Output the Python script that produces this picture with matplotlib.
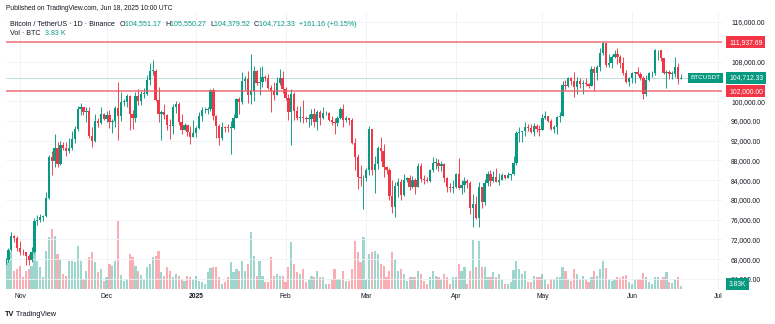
import matplotlib
matplotlib.use('Agg')
import matplotlib.pyplot as plt
import matplotlib.transforms as mtransforms
import matplotlib.dates as mdates
import numpy as np
import pandas as pd

plt.rcParams['font.family'] = ['Liberation Sans', 'DejaVu Sans']

# daily candles, Oct 27 2024 .. Jun 18 2025
dates = pd.date_range('2024-10-27', '2025-06-18', freq='D')
first_open = 67000

close = [
    # Oct
    67940, 69900, 72720, 72340, 70220,
    # Nov
    69500, 69360, 68740, 67800, 69360, 75640, 75900, 76540, 76680, 80370,
    88700, 87950, 90600, 87300, 91050, 90600, 89850, 90460, 92300, 94300,
    98350, 98900, 97700, 97900, 93000, 91950, 95950, 95650, 97460, 96400,
    # Dec
    97200, 95860, 96000, 98600, 96950, 99800, 99900, 101100, 97400, 96600,
    101100, 100000, 101400, 101400, 104300, 106050, 106100, 100200, 97450, 97750,
    97200, 95150, 94880, 98700, 99400, 95800, 94200, 95100, 93700, 92800, 93600,
    # Jan
    94600, 96900, 98100, 98240, 98300, 102200, 96900, 95000, 92500, 94700,
    94550, 94500, 94500, 96500, 100500, 99900, 104100, 104450, 101300, 102000,
    106150, 103650, 103950, 104800, 104700, 102600, 102100, 101300, 103700, 104750, 102400,
    # Feb
    100650, 97700, 101400, 97900, 96600, 96600, 96500, 96450, 96450, 97400,
    95800, 97850, 96600, 97500, 97600, 96100, 95750, 95550, 96600, 98350,
    96100, 96550, 96250, 91550, 88700, 84700, 84350, 84400,
    # Mar
    86050, 94250, 86100, 87200, 90600, 89950, 86750, 86150, 80750, 78600,
    82900, 83700, 81050, 83950, 84350, 82600, 84050, 82700, 86850, 84200,
    84100, 83850, 86100, 87500, 87500, 86900, 87250, 84400, 82600, 82350, 82550,
    # Apr
    85150, 82500, 83100, 83850, 83500, 78400, 79150, 76300, 82600, 79600,
    83400, 85300, 83750, 84550, 83650, 84050, 84950, 84450, 85050, 85200,
    87500, 93450, 93700, 93950, 94700, 94650, 93750, 95050, 94300, 94200,
    # May
    96500, 96900, 95900, 94300, 94750, 96800, 97050, 103250, 102950, 104650,
    104100, 102800, 104150, 103500, 103750, 103550, 103150, 106450, 105600, 106800,
    109650, 111700, 107300, 107800, 109000, 109450, 108950, 107800, 105650, 103850, 104600,
    # Jun
    105700, 105800, 105400, 104700, 101500, 104300, 105600, 105750, 110250, 110250,
    108650, 105650, 105950, 105400, 105550, 106800, 104551.17, 104712.33,
]

high = [
    68300, 70200, 73600, 72960, 72700,
    71600, 70000, 69500, 69000, 70500, 76400, 76950, 77200, 76950, 81500,
    89000, 89950, 93300, 91800, 91850, 91800, 91700, 92600, 94000, 94900,
    99000, 99600, 98800, 98700, 98900, 94800, 97400, 96600, 98700, 97500,
    97900, 98200, 96300, 99000, 103900, 101900, 100500, 101400, 101200, 98200,
    101900, 102500, 102000, 102600, 105200, 107800, 108350, 106500, 102800, 98100,
    99500, 97300, 96400, 99400, 99950, 99900, 97300, 95500, 95200, 94900, 96150,
    94900, 97800, 98900, 98700, 98800, 102500, 102700, 97250, 95300, 95800,
    95000, 95400, 95900, 97350, 100700, 100850, 105900, 104990, 106000, 109600,
    107000, 106300, 106850, 107100, 105300, 105450, 103200, 103800, 104800, 106450, 106000,
    102800, 101450, 102500, 101750, 99000, 99000, 100150, 96900, 97300, 98350,
    98500, 98100, 98100, 98800, 97950, 97700, 97000, 96500, 96900, 98750,
    99500, 96900, 96650, 96500, 92500, 89300, 87100, 85100,
    86550, 95050, 94400, 88900, 91000, 92800, 91300, 86850, 86500, 83950,
    83600, 84350, 84300, 85300, 84650, 85050, 84750, 84500, 87450, 87450,
    85000, 84550, 86200, 88750, 88550, 88300, 87800, 87500, 84550, 83500, 83950,
    85500, 88500, 83950, 84700, 84250, 83800, 81250, 80850, 83550, 82700,
    84300, 85900, 86100, 85800, 86500, 85500, 85450, 85100, 85600, 85300,
    88850, 93850, 94700, 94000, 95750, 95300, 95350, 95600, 95450, 95250,
    97450, 97900, 96950, 96300, 95200, 96900, 97700, 104100, 104350, 104950,
    104800, 105800, 104950, 104600, 104250, 104600, 103700, 107100, 107100, 107300,
    110800, 111980, 111800, 109500, 109300, 110400, 110700, 109300, 108900, 106300, 104900,
    105850, 105950, 106800, 105950, 105000, 105300, 105950, 106000, 110550, 110400,
    110400, 108800, 106200, 106200, 106150, 108950, 107750, 105550.27,
]

low = [
    66800, 67500, 69700, 71400, 69700,
    68800, 68800, 66800, 66800, 67500, 69300, 74900, 75600, 75700, 76500,
    80200, 85100, 86600, 86700, 87100, 90100, 88800, 89400, 90000, 91500,
    94000, 97200, 97100, 95800, 92600, 90800, 91800, 94700, 95400, 96200,
    95700, 94500, 93600, 94700, 92100, 95900, 99000, 98700, 94100, 94300,
    95700, 99300, 99200, 100600, 101200, 103300, 105300, 100000, 95700, 92200,
    96400, 94200, 92400, 93400, 97600, 95100, 93300, 94100, 93000, 91300, 92800,
    92800, 94400, 96000, 97500, 97300, 97900, 96100, 92500, 91200, 92200,
    93800, 93700, 89250, 94300, 96500, 97300, 99500, 102300, 99600, 99500,
    100100, 103300, 101250, 102750, 104100, 102450, 97750, 100300, 101300, 103300, 101550,
    100300, 96200, 91200, 96150, 96150, 95700, 95650, 95700, 94700, 95250,
    94850, 94100, 95200, 96300, 97200, 96000, 95200, 93400, 95000, 96400,
    94800, 95700, 95250, 91350, 86050, 82250, 82800, 78200,
    83800, 85000, 85100, 81400, 86300, 87800, 84650, 85250, 80000, 77450,
    76600, 80650, 79950, 80800, 83600, 82000, 82450, 81150, 82600, 83650,
    83200, 83600, 83700, 85550, 86300, 85900, 85800, 83600, 81650, 81550, 81300,
    82450, 82300, 81200, 81650, 82350, 77150, 74500, 76200, 74600, 78450,
    78950, 82850, 82800, 83700, 83600, 83100, 83950, 84300, 84350, 83950,
    85050, 87050, 91700, 91650, 92850, 93900, 93600, 92850, 93700, 92900,
    94150, 96300, 95700, 94150, 93500, 93400, 95800, 96900, 102300, 102800,
    103200, 100750, 101450, 102650, 101400, 103100, 102600, 103050, 102000, 104200,
    106100, 109300, 106800, 106900, 106600, 108700, 107550, 106700, 105350, 103700, 103100,
    103650, 103750, 105000, 104200, 100400, 101100, 104100, 104950, 105300, 108350,
    108050, 105400, 102650, 104500, 104500, 104950, 103400, 104379.52,
]

# volume in thousands of BTC
volume = [
    34, 42, 55, 27, 30,
    34, 18, 27, 30, 34, 57, 42, 33, 18, 57, 78, 90, 80, 52, 45,
    22, 20, 42, 42, 40, 64, 42, 15, 27, 48, 55, 40, 25, 30, 12,
    18, 38, 35, 42, 102, 21, 12, 15, 52, 48, 35, 27, 21, 15, 33,
    38, 48, 50, 57, 25, 20, 33, 27, 18, 22, 20, 15, 12, 20, 18, 15,
    20, 12, 10, 8, 25, 32, 33, 33, 18, 8, 10, 18, 40, 25, 30,
    27, 42, 27, 38, 86, 50, 20, 42, 20, 10, 10, 48, 20, 22, 20, 20,
    10, 33, 70, 38, 25, 22, 30, 10, 15, 20, 18, 27, 18, 18, 8,
    8, 15, 30, 15, 15, 27, 12, 12, 30, 72, 55, 40, 78,
    15, 52, 55, 57, 52, 38, 35, 18, 27, 55, 45, 27, 30, 22, 12,
    18, 18, 18, 27, 22, 12, 8, 18, 27, 20, 18, 15, 22, 18, 8, 18,
    18, 38, 27, 33, 8, 27, 74, 33, 72, 33, 33, 18, 18, 25, 18,
    22, 15, 8, 8, 10, 28, 42, 30, 22, 27, 10, 10, 20, 18, 18,
    22, 15, 8, 15, 15, 18, 18, 33, 27, 15, 12, 30, 22, 15, 20,
    15, 10, 18, 27, 20, 30, 42, 32, 15, 12, 15, 18, 16, 20, 21, 10,
    8, 15, 15, 15, 24, 18, 10, 8, 18, 18, 14, 18, 25, 10, 9, 15, 18, 3.83,
]

month_ticks = ['2024-11-01', '2024-12-01', '2025-01-01', '2025-02-01', '2025-03-01',
               '2025-04-01', '2025-05-01', '2025-06-01', '2025-07-01']
month_labels = ['Nov', 'Dec', '2025', 'Feb', 'Mar', 'Apr', 'May', 'Jun', 'Jul']
price_ticks = [116000, 108000, 100000, 96000, 92000, 88000, 84000,
               80000, 76000, 72000, 68000, 64000]
resistance = 111937.69
support = 102000.00
last_price = 104712.33
last_vol = '3.83K'

UP = '#089981'
DOWN = '#f23645'
TXT = '#131722'

close = np.array(close, dtype=float)
high = np.array(high, dtype=float)
low = np.array(low, dtype=float)
volume = np.array(volume, dtype=float)
opens = np.concatenate([[first_open], close[:-1]])
up = close >= opens

W, H = 775, 324
fig = plt.figure(figsize=(W / 100, H / 100), dpi=100)
rect = [6 / W, 1 - 289 / H, 716 / W, 277 / H]

# volume pane underneath
axv = fig.add_axes(rect)
ax = fig.add_axes(rect, sharex=axv)
ax.patch.set_visible(False)

x0 = pd.Timestamp('2024-11-01')
px_day = 2.886
axv.set_xlim(mdates.date2num(x0 - pd.Timedelta(days=14 / px_day)),
             mdates.date2num(x0 + pd.Timedelta(days=702 / px_day)))

vcol = [(8/255, 153/255, 129/255, 0.4) if u else (242/255, 54/255, 69/255, 0.4) for u in up]
axv.bar(dates, volume, width=0.75, color=vcol, linewidth=0)
axv.set_ylim(0, 277 * 1.5)
axv.set_yticks([])
for s in axv.spines.values():
    s.set_visible(False)
axv.tick_params(axis='x', length=0, labelbottom=False)
for t in month_ticks:
    axv.axvline(pd.Timestamp(t), color='#eef1f6', lw=0.6, zorder=0)

# price pane
ax.set_ylim(116000 - 267 / 0.004942, 116000 + 10 / 0.004942)
for p in price_ticks:
    ax.axhline(p, color='#eef1f6', lw=0.6, zorder=0)

ccol = [UP if u else DOWN for u in up]
ax.vlines(dates, low, high, colors=ccol, lw=0.65, zorder=2)
body_lo = np.minimum(opens, close)
body_h = np.maximum(np.abs(close - opens), 180)
ax.bar(dates, body_h, bottom=body_lo, width=0.8, color=ccol, linewidth=0, zorder=3)

ax.axhline(resistance, color='#ec5f68', lw=1.1, alpha=0.9, zorder=4)
ax.axhline(support, color='#ec5f68', lw=1.1, alpha=0.9, zorder=4)
ax.axhline(last_price, color='#7ec8c0', lw=0.6, alpha=0.6, zorder=1)

ax.set_yticks(price_ticks)
ax.set_yticklabels([f'{p:,.2f}' for p in price_ticks])
ax.yaxis.tick_right()
ax.tick_params(axis='y', length=0, pad=6.5, labelsize=4.9, labelcolor=TXT)
ax.set_xticks([pd.Timestamp(t) for t in month_ticks])
ax.set_xticklabels(month_labels)
ax.tick_params(axis='x', length=0, pad=3, labelsize=4.9, labelcolor=TXT)
for lab in ax.get_xticklabels():
    if lab.get_text() == '2025':
        lab.set_fontweight('bold')
for s in ax.spines.values():
    s.set_visible(False)

# price axis labels
trans = mtransforms.blended_transform_factory(ax.transAxes, ax.transData)
xl = (729 - 6) / 716
box = dict(boxstyle='square,pad=0.38', ec='none')
ax.text(xl, resistance, f'{resistance:,.2f}', transform=trans, ha='left', va='center',
        fontsize=4.9, color='white', bbox=dict(box, fc=DOWN), clip_on=False, zorder=10)
ax.text(xl, support, f'{support:,.2f}', transform=trans, ha='left', va='center',
        fontsize=4.9, color='white', bbox=dict(box, fc=DOWN), clip_on=False, zorder=10)
ax.text(xl, last_price, f'{last_price:,.2f}', transform=trans, ha='left', va='center',
        fontsize=4.9, color='white', bbox=dict(box, fc=UP), clip_on=False, zorder=10)
ax.text(0.9985, last_price, 'BTCUSDT', transform=trans, ha='right', va='center',
        fontsize=4.6, color='white', bbox=dict(box, fc=UP), clip_on=False, zorder=10)
ax.text(xl, (289 - 284) / 277, last_vol, transform=ax.transAxes, ha='left', va='center',
        fontsize=4.9, color='white', bbox=dict(box, fc=UP), clip_on=False, zorder=10)

# header text
ident = mtransforms.IdentityTransform()
renderer = fig.canvas.get_renderer()


def put_runs(x, y, runs, size):
    for s, col, bold in runs:
        t = fig.text(x, H - y, s, color=col, fontsize=size, transform=ident,
                     ha='left', va='center', fontweight='bold' if bold else 'normal')
        x = t.get_window_extent(renderer).x1


put_runs(6, 8, [('Published on TradingView.com, Jun 18, 2025 10:00 UTC', TXT, False)], 4.75)
put_runs(10.5, 24, [
    ('Bitcoin / TetherUS \u00b7 1D \u00b7 Binance  ', TXT, False),
    ('O', TXT, False), ('104,551.17  ', UP, False),
    ('H', TXT, False), ('105,550.27  ', UP, False),
    ('L', TXT, False), ('104,379.52  ', UP, False),
    ('C', TXT, False), ('104,712.33  +161.16 (+0.15%)', UP, False),
], 5.1)
put_runs(10.5, 33.5, [('Vol \u00b7 BTC  ', TXT, False), ('3.83 K', UP, False)], 5.1)
put_runs(5, 314, [('TV', TXT, True), (' TradingView', TXT, False)], 5.3)

fig.savefig('out.png', dpi=100)
